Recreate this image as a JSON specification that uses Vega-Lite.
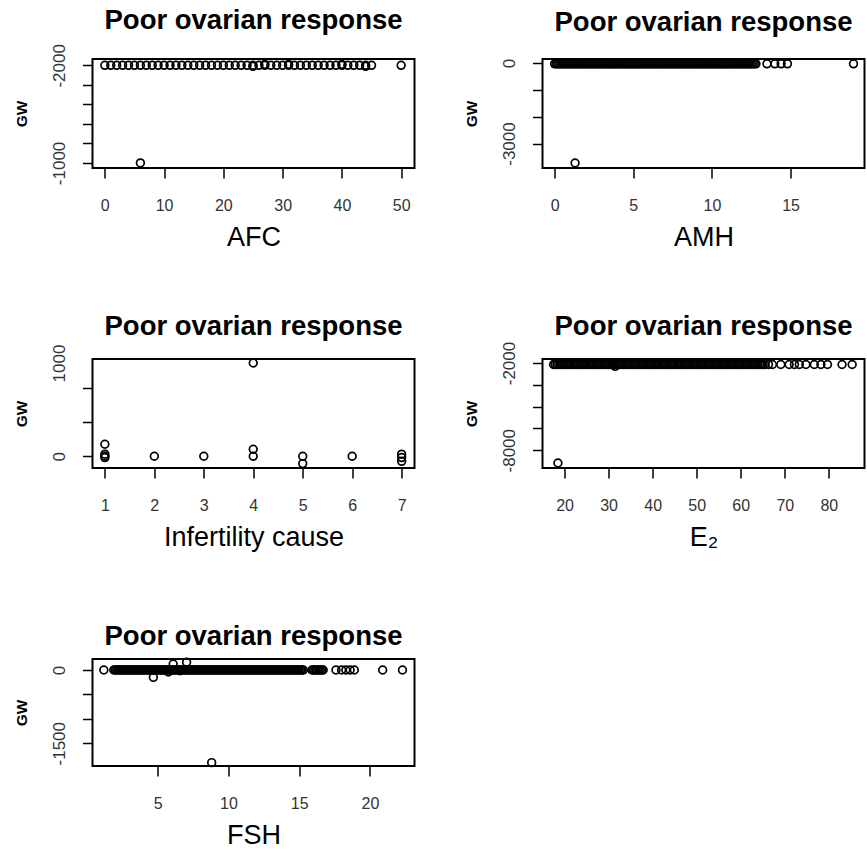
{
  "$schema": "https://vega.github.io/schema/vega-lite/v6.json",
  "background": "white",
  "padding": {"left": 12.5, "top": 6, "right": 5, "bottom": 5},
  "columns": 2,
  "spacing": {"row": 191, "column": 128},
  "bounds": "flush",
  "config": {
    "font": "Liberation Sans",
    "view": {"stroke": "black", "strokeWidth": 2},
    "axis": {"grid": false, "domain": false, "tickColor": "black", "tickWidth": 1.5, "tickSize": 10, "labelFontSize": 16, "labelColor": "#333333", "labelPadding": 19, "titleColor": "black", "labelFont": "Liberation Sans", "titleFont": "Liberation Sans"},
    "axisX": {"titleFontSize": 27, "titleFontWeight": "normal", "titlePadding": 11},
    "axisY": {"labelFontSize": 17, "titleFontSize": 15.5, "titleFontWeight": "bold", "labelAngle": 270, "labelPadding": 14.5, "titlePadding": 21},
    "title": {"fontSize": 27.5, "fontWeight": "bold", "color": "black", "font": "Liberation Sans", "frame": "group", "baseline": "alphabetic"},
    "point": {"shape": "circle", "filled": false, "stroke": "black", "strokeWidth": 1.7, "size": 60, "opacity": 1}
  },
  "datasets": {
    "afc": [
      {"AFC":0,"GW":-2000},{"AFC":1,"GW":-2000},{"AFC":2,"GW":-2000},{"AFC":3,"GW":-2000},{"AFC":4,"GW":-2000},{"AFC":5,"GW":-2000},{"AFC":6,"GW":-2000},{"AFC":7,"GW":-2000},{"AFC":8,"GW":-2000},{"AFC":9,"GW":-2000},
      {"AFC":10,"GW":-2000},{"AFC":11,"GW":-2000},{"AFC":12,"GW":-2000},{"AFC":13,"GW":-2000},{"AFC":14,"GW":-2000},{"AFC":15,"GW":-2000},{"AFC":16,"GW":-2000},{"AFC":17,"GW":-2000},{"AFC":18,"GW":-2000},{"AFC":19,"GW":-2000},
      {"AFC":20,"GW":-2000},{"AFC":21,"GW":-2000},{"AFC":22,"GW":-2000},{"AFC":23,"GW":-2000},{"AFC":24,"GW":-2000},{"AFC":25,"GW":-2000},{"AFC":25,"GW":-1990},{"AFC":26,"GW":-2000},{"AFC":27,"GW":-2000},{"AFC":27,"GW":-2010},{"AFC":28,"GW":-2000},{"AFC":29,"GW":-2000},
      {"AFC":30,"GW":-2000},{"AFC":31,"GW":-2000},{"AFC":31,"GW":-2010},{"AFC":32,"GW":-2000},{"AFC":33,"GW":-2000},{"AFC":34,"GW":-2000},{"AFC":35,"GW":-2000},{"AFC":36,"GW":-2000},{"AFC":37,"GW":-2000},{"AFC":38,"GW":-2000},{"AFC":39,"GW":-2000},
      {"AFC":40,"GW":-2000},{"AFC":40,"GW":-2010},{"AFC":41,"GW":-2000},{"AFC":42,"GW":-2000},{"AFC":43,"GW":-2000},{"AFC":44,"GW":-2000},{"AFC":44,"GW":-1990},{"AFC":45,"GW":-2000},{"AFC":50,"GW":-2000},
      {"AFC":6,"GW":-1000}
    ],
    "amh": [
      {"AMH":0,"GW":-30},{"AMH":0.1,"GW":-30},{"AMH":0.2,"GW":-30},{"AMH":0.3,"GW":-30},{"AMH":0.4,"GW":-30},{"AMH":0.5,"GW":-30},{"AMH":0.6,"GW":-30},{"AMH":0.7,"GW":-30},{"AMH":0.8,"GW":-30},{"AMH":0.9,"GW":-30},
      {"AMH":1,"GW":-30},{"AMH":1.1,"GW":-30},{"AMH":1.2,"GW":-30},{"AMH":1.3,"GW":-30},{"AMH":1.4,"GW":-30},{"AMH":1.5,"GW":-30},{"AMH":1.6,"GW":-30},{"AMH":1.7,"GW":-30},{"AMH":1.8,"GW":-30},{"AMH":1.9,"GW":-30},
      {"AMH":2,"GW":-30},{"AMH":2.1,"GW":-30},{"AMH":2.2,"GW":-30},{"AMH":2.3,"GW":-30},{"AMH":2.4,"GW":-30},{"AMH":2.5,"GW":-30},{"AMH":2.6,"GW":-30},{"AMH":2.7,"GW":-30},{"AMH":2.8,"GW":-30},{"AMH":2.9,"GW":-30},
      {"AMH":3,"GW":-30},{"AMH":3.1,"GW":-30},{"AMH":3.2,"GW":-30},{"AMH":3.3,"GW":-30},{"AMH":3.4,"GW":-30},{"AMH":3.5,"GW":-30},{"AMH":3.6,"GW":-30},{"AMH":3.7,"GW":-30},{"AMH":3.8,"GW":-30},{"AMH":3.9,"GW":-30},
      {"AMH":4,"GW":-30},{"AMH":4.1,"GW":-30},{"AMH":4.2,"GW":-30},{"AMH":4.3,"GW":-30},{"AMH":4.4,"GW":-30},{"AMH":4.5,"GW":-30},{"AMH":4.6,"GW":-30},{"AMH":4.7,"GW":-30},{"AMH":4.8,"GW":-30},{"AMH":4.9,"GW":-30},
      {"AMH":5,"GW":-30},{"AMH":5.1,"GW":-30},{"AMH":5.2,"GW":-30},{"AMH":5.3,"GW":-30},{"AMH":5.4,"GW":-30},{"AMH":5.5,"GW":-30},{"AMH":5.6,"GW":-30},{"AMH":5.7,"GW":-30},{"AMH":5.8,"GW":-30},{"AMH":5.9,"GW":-30},
      {"AMH":6,"GW":-30},{"AMH":6.1,"GW":-30},{"AMH":6.2,"GW":-30},{"AMH":6.3,"GW":-30},{"AMH":6.4,"GW":-30},{"AMH":6.5,"GW":-30},{"AMH":6.6,"GW":-30},{"AMH":6.7,"GW":-30},{"AMH":6.8,"GW":-30},{"AMH":6.9,"GW":-30},
      {"AMH":7,"GW":-30},{"AMH":7.1,"GW":-30},{"AMH":7.2,"GW":-30},{"AMH":7.3,"GW":-30},{"AMH":7.4,"GW":-30},{"AMH":7.5,"GW":-30},{"AMH":7.6,"GW":-30},{"AMH":7.7,"GW":-30},{"AMH":7.8,"GW":-30},{"AMH":7.9,"GW":-30},
      {"AMH":8,"GW":-30},{"AMH":8.1,"GW":-30},{"AMH":8.2,"GW":-30},{"AMH":8.3,"GW":-30},{"AMH":8.4,"GW":-30},{"AMH":8.5,"GW":-30},{"AMH":8.6,"GW":-30},{"AMH":8.7,"GW":-30},{"AMH":8.8,"GW":-30},{"AMH":8.9,"GW":-30},
      {"AMH":9,"GW":-30},{"AMH":9.1,"GW":-30},{"AMH":9.2,"GW":-30},{"AMH":9.3,"GW":-30},{"AMH":9.4,"GW":-30},{"AMH":9.5,"GW":-30},{"AMH":9.6,"GW":-30},{"AMH":9.7,"GW":-30},{"AMH":9.8,"GW":-30},{"AMH":9.9,"GW":-30},
      {"AMH":10,"GW":-30},{"AMH":10.1,"GW":-30},{"AMH":10.2,"GW":-30},{"AMH":10.3,"GW":-30},{"AMH":10.4,"GW":-30},{"AMH":10.5,"GW":-30},{"AMH":10.6,"GW":-30},{"AMH":10.7,"GW":-30},{"AMH":10.8,"GW":-30},{"AMH":10.9,"GW":-30},
      {"AMH":11,"GW":-30},{"AMH":11.1,"GW":-30},{"AMH":11.2,"GW":-30},{"AMH":11.3,"GW":-30},{"AMH":11.4,"GW":-30},{"AMH":11.5,"GW":-30},{"AMH":11.6,"GW":-30},{"AMH":11.7,"GW":-30},{"AMH":11.8,"GW":-30},{"AMH":11.9,"GW":-30},
      {"AMH":12,"GW":-30},{"AMH":12.1,"GW":-30},{"AMH":12.2,"GW":-30},{"AMH":12.3,"GW":-30},{"AMH":12.4,"GW":-30},{"AMH":12.5,"GW":-30},{"AMH":12.6,"GW":-30},{"AMH":12.7,"GW":-30},{"AMH":12.8,"GW":-30},
      {"AMH":13.5,"GW":-30},{"AMH":14.0,"GW":-30},{"AMH":14.4,"GW":-30},{"AMH":14.8,"GW":-30},{"AMH":19.0,"GW":-30},
      {"AMH":1.3,"GW":-3725}
    ],
    "inf": [
      {"Cause":1,"GW":129},{"Cause":1,"GW":22},{"Cause":1,"GW":0},{"Cause":1,"GW":-14},
      {"Cause":2,"GW":0},{"Cause":3,"GW":0},
      {"Cause":4,"GW":1000},{"Cause":4,"GW":75},{"Cause":4,"GW":0},
      {"Cause":5,"GW":0},{"Cause":5,"GW":-79},
      {"Cause":6,"GW":0},
      {"Cause":7,"GW":22},{"Cause":7,"GW":-14},{"Cause":7,"GW":-54}
    ],
    "e2": [
      {"E2":17.5,"GW":-2100},{"E2":17.9,"GW":-2100},{"E2":18.3,"GW":-2100},{"E2":18.7,"GW":-2100},{"E2":19.1,"GW":-2100},{"E2":19.5,"GW":-2100},{"E2":19.9,"GW":-2100},{"E2":20.3,"GW":-2100},{"E2":20.7,"GW":-2100},{"E2":21.1,"GW":-2100},
      {"E2":21.5,"GW":-2100},{"E2":21.9,"GW":-2100},{"E2":22.3,"GW":-2100},{"E2":22.7,"GW":-2100},{"E2":23.1,"GW":-2100},{"E2":23.5,"GW":-2100},{"E2":23.9,"GW":-2100},{"E2":24.3,"GW":-2100},{"E2":24.7,"GW":-2100},{"E2":25.1,"GW":-2100},
      {"E2":25.5,"GW":-2100},{"E2":25.9,"GW":-2100},{"E2":26.3,"GW":-2100},{"E2":26.7,"GW":-2100},{"E2":27.1,"GW":-2100},{"E2":27.5,"GW":-2100},{"E2":27.9,"GW":-2100},{"E2":28.3,"GW":-2100},{"E2":28.7,"GW":-2100},{"E2":29.1,"GW":-2100},
      {"E2":29.5,"GW":-2100},{"E2":29.9,"GW":-2100},{"E2":30.3,"GW":-2100},{"E2":30.7,"GW":-2100},{"E2":31.1,"GW":-2100},{"E2":31.5,"GW":-2100},{"E2":31.9,"GW":-2100},{"E2":32.3,"GW":-2100},{"E2":32.7,"GW":-2100},{"E2":33.1,"GW":-2100},
      {"E2":33.5,"GW":-2100},{"E2":33.9,"GW":-2100},{"E2":34.3,"GW":-2100},{"E2":34.7,"GW":-2100},{"E2":35.1,"GW":-2100},{"E2":35.5,"GW":-2100},{"E2":35.9,"GW":-2100},{"E2":36.3,"GW":-2100},{"E2":36.7,"GW":-2100},{"E2":37.1,"GW":-2100},
      {"E2":37.5,"GW":-2100},{"E2":37.9,"GW":-2100},{"E2":38.3,"GW":-2100},{"E2":38.7,"GW":-2100},{"E2":39.1,"GW":-2100},{"E2":39.5,"GW":-2100},{"E2":39.9,"GW":-2100},{"E2":40.3,"GW":-2100},{"E2":40.7,"GW":-2100},{"E2":41.1,"GW":-2100},
      {"E2":41.5,"GW":-2100},{"E2":41.9,"GW":-2100},{"E2":42.3,"GW":-2100},{"E2":42.7,"GW":-2100},{"E2":43.1,"GW":-2100},{"E2":43.5,"GW":-2100},{"E2":43.9,"GW":-2100},{"E2":44.3,"GW":-2100},{"E2":44.7,"GW":-2100},{"E2":45.1,"GW":-2100},
      {"E2":45.5,"GW":-2100},{"E2":45.9,"GW":-2100},{"E2":46.3,"GW":-2100},{"E2":46.7,"GW":-2100},{"E2":47.1,"GW":-2100},{"E2":47.5,"GW":-2100},{"E2":47.9,"GW":-2100},{"E2":48.3,"GW":-2100},{"E2":48.7,"GW":-2100},{"E2":49.1,"GW":-2100},
      {"E2":49.5,"GW":-2100},{"E2":49.9,"GW":-2100},{"E2":50.3,"GW":-2100},{"E2":50.7,"GW":-2100},{"E2":51.1,"GW":-2100},{"E2":51.5,"GW":-2100},{"E2":51.9,"GW":-2100},{"E2":52.3,"GW":-2100},{"E2":52.7,"GW":-2100},{"E2":53.1,"GW":-2100},
      {"E2":53.5,"GW":-2100},{"E2":53.9,"GW":-2100},{"E2":54.3,"GW":-2100},{"E2":54.7,"GW":-2100},{"E2":55.1,"GW":-2100},{"E2":55.5,"GW":-2100},{"E2":55.9,"GW":-2100},{"E2":56.3,"GW":-2100},{"E2":56.7,"GW":-2100},{"E2":57.1,"GW":-2100},
      {"E2":57.5,"GW":-2100},{"E2":57.9,"GW":-2100},{"E2":58.3,"GW":-2100},{"E2":58.7,"GW":-2100},{"E2":59.1,"GW":-2100},{"E2":59.5,"GW":-2100},{"E2":59.9,"GW":-2100},{"E2":60.3,"GW":-2100},{"E2":60.7,"GW":-2100},{"E2":61.1,"GW":-2100},
      {"E2":61.5,"GW":-2100},{"E2":61.9,"GW":-2100},{"E2":62.3,"GW":-2100},{"E2":62.7,"GW":-2100},{"E2":63.1,"GW":-2100},{"E2":63.5,"GW":-2100},{"E2":63.9,"GW":-2100},{"E2":64.3,"GW":-2100},{"E2":64.7,"GW":-2100},{"E2":65.1,"GW":-2100},
      {"E2":65.5,"GW":-2100},{"E2":66.3,"GW":-2100},{"E2":67.2,"GW":-2100},{"E2":69.1,"GW":-2100},{"E2":71.0,"GW":-2100},{"E2":72.2,"GW":-2100},{"E2":73.3,"GW":-2100},{"E2":74.8,"GW":-2100},{"E2":76.7,"GW":-2100},{"E2":78.2,"GW":-2100},{"E2":79.7,"GW":-2100},{"E2":83.0,"GW":-2100},{"E2":85.3,"GW":-2100},
      {"E2":31.5,"GW":-2230},
      {"E2":18.5,"GW":-8877}
    ],
    "fsh": [
      {"FSH":1.2,"GW":0},
      {"FSH":1.9,"GW":0},{"FSH":2,"GW":0},{"FSH":2.1,"GW":0},{"FSH":2.2,"GW":0},{"FSH":2.3,"GW":0},{"FSH":2.4,"GW":0},{"FSH":2.5,"GW":0},{"FSH":2.6,"GW":0},{"FSH":2.7,"GW":0},{"FSH":2.8,"GW":0},{"FSH":2.9,"GW":0},
      {"FSH":3,"GW":0},{"FSH":3.1,"GW":0},{"FSH":3.2,"GW":0},{"FSH":3.3,"GW":0},{"FSH":3.4,"GW":0},{"FSH":3.5,"GW":0},{"FSH":3.6,"GW":0},{"FSH":3.7,"GW":0},{"FSH":3.8,"GW":0},{"FSH":3.9,"GW":0},
      {"FSH":4,"GW":0},{"FSH":4.1,"GW":0},{"FSH":4.2,"GW":0},{"FSH":4.3,"GW":0},{"FSH":4.4,"GW":0},{"FSH":4.5,"GW":0},{"FSH":4.6,"GW":0},{"FSH":4.7,"GW":0},{"FSH":4.8,"GW":0},{"FSH":4.9,"GW":0},
      {"FSH":5,"GW":0},{"FSH":5.1,"GW":0},{"FSH":5.2,"GW":0},{"FSH":5.3,"GW":0},{"FSH":5.4,"GW":0},{"FSH":5.5,"GW":0},{"FSH":5.6,"GW":0},{"FSH":5.7,"GW":0},{"FSH":5.8,"GW":0},{"FSH":5.9,"GW":0},
      {"FSH":6,"GW":0},{"FSH":6.1,"GW":0},{"FSH":6.2,"GW":0},{"FSH":6.3,"GW":0},{"FSH":6.4,"GW":0},{"FSH":6.5,"GW":0},{"FSH":6.6,"GW":0},{"FSH":6.7,"GW":0},{"FSH":6.8,"GW":0},{"FSH":6.9,"GW":0},
      {"FSH":7,"GW":0},{"FSH":7.1,"GW":0},{"FSH":7.2,"GW":0},{"FSH":7.3,"GW":0},{"FSH":7.4,"GW":0},{"FSH":7.5,"GW":0},{"FSH":7.6,"GW":0},{"FSH":7.7,"GW":0},{"FSH":7.8,"GW":0},{"FSH":7.9,"GW":0},
      {"FSH":8,"GW":0},{"FSH":8.1,"GW":0},{"FSH":8.2,"GW":0},{"FSH":8.3,"GW":0},{"FSH":8.4,"GW":0},{"FSH":8.5,"GW":0},{"FSH":8.6,"GW":0},{"FSH":8.7,"GW":0},{"FSH":8.8,"GW":0},{"FSH":8.9,"GW":0},
      {"FSH":9,"GW":0},{"FSH":9.1,"GW":0},{"FSH":9.2,"GW":0},{"FSH":9.3,"GW":0},{"FSH":9.4,"GW":0},{"FSH":9.5,"GW":0},{"FSH":9.6,"GW":0},{"FSH":9.7,"GW":0},{"FSH":9.8,"GW":0},{"FSH":9.9,"GW":0},
      {"FSH":10,"GW":0},{"FSH":10.1,"GW":0},{"FSH":10.2,"GW":0},{"FSH":10.3,"GW":0},{"FSH":10.4,"GW":0},{"FSH":10.5,"GW":0},{"FSH":10.6,"GW":0},{"FSH":10.7,"GW":0},{"FSH":10.8,"GW":0},{"FSH":10.9,"GW":0},
      {"FSH":11,"GW":0},{"FSH":11.1,"GW":0},{"FSH":11.2,"GW":0},{"FSH":11.3,"GW":0},{"FSH":11.4,"GW":0},{"FSH":11.5,"GW":0},{"FSH":11.6,"GW":0},{"FSH":11.7,"GW":0},{"FSH":11.8,"GW":0},{"FSH":11.9,"GW":0},
      {"FSH":12,"GW":0},{"FSH":12.1,"GW":0},{"FSH":12.2,"GW":0},{"FSH":12.3,"GW":0},{"FSH":12.4,"GW":0},{"FSH":12.5,"GW":0},{"FSH":12.6,"GW":0},{"FSH":12.7,"GW":0},{"FSH":12.8,"GW":0},{"FSH":12.9,"GW":0},
      {"FSH":13,"GW":0},{"FSH":13.1,"GW":0},{"FSH":13.2,"GW":0},{"FSH":13.3,"GW":0},{"FSH":13.4,"GW":0},{"FSH":13.5,"GW":0},{"FSH":13.6,"GW":0},{"FSH":13.7,"GW":0},{"FSH":13.8,"GW":0},{"FSH":13.9,"GW":0},
      {"FSH":14,"GW":0},{"FSH":14.1,"GW":0},{"FSH":14.2,"GW":0},{"FSH":14.3,"GW":0},{"FSH":14.4,"GW":0},{"FSH":14.5,"GW":0},{"FSH":14.6,"GW":0},{"FSH":14.7,"GW":0},{"FSH":14.8,"GW":0},{"FSH":14.9,"GW":0},
      {"FSH":15,"GW":0},{"FSH":15.1,"GW":0},{"FSH":15.2,"GW":0},{"FSH":15.3,"GW":0},
      {"FSH":15.9,"GW":0},{"FSH":16,"GW":0},{"FSH":16.1,"GW":0},{"FSH":16.2,"GW":0},{"FSH":16.3,"GW":0},{"FSH":16.4,"GW":0},{"FSH":16.5,"GW":0},{"FSH":16.6,"GW":0},{"FSH":16.7,"GW":0},
      {"FSH":17.6,"GW":0},{"FSH":18.0,"GW":0},{"FSH":18.3,"GW":0},{"FSH":18.6,"GW":0},{"FSH":18.9,"GW":0},
      {"FSH":20.9,"GW":0},{"FSH":22.3,"GW":0},
      {"FSH":4.7,"GW":-150},{"FSH":6.1,"GW":123},{"FSH":7.05,"GW":158},{"FSH":5.76,"GW":-41},{"FSH":6.6,"GW":-14},
      {"FSH":8.82,"GW":-1897}
    ]
  },
  "concat": [
    {
      "title": {"text": "Poor ovarian response", "offset": 9},
      "width": 322, "height": 109,
      "data": {"name": "afc"},
      "mark": {"type": "point"},
      "encoding": {
        "x": {"field": "AFC", "type": "quantitative", "scale": {"domain": [-2.08, 52.25], "nice": false, "zero": false}, "axis": {"values": [0,10,20,30,40,50], "title": "AFC", "labelExpr": "'' + datum.value"}},
        "y": {"field": "GW", "type": "quantitative", "scale": {"domain": [-2065, -948], "reverse": true, "nice": false, "zero": false}, "axis": {"values": [-2000,-1800,-1600,-1400,-1200,-1000], "title": "GW", "labelExpr": "datum.value == -2000 || datum.value == -1000 ? '' + datum.value : ''"}}
      }
    },
    {
      "title": {"text": "Poor ovarian response", "offset": 20},
      "width": 322, "height": 109,
      "data": {"name": "amh"},
      "mark": {"type": "point"},
      "encoding": {
        "x": {"field": "AMH", "type": "quantitative", "scale": {"domain": [-0.77, 19.7], "nice": false, "zero": false}, "axis": {"values": [0,5,10,15], "title": "AMH", "labelExpr": "'' + datum.value"}},
        "y": {"field": "GW", "type": "quantitative", "scale": {"domain": [-3912, 150], "nice": false, "zero": false}, "axis": {"values": [0,-1000,-2000,-3000], "title": "GW", "labelExpr": "datum.value == 0 || datum.value == -3000 ? '' + datum.value : ''"}}
      }
    },
    {
      "title": {"text": "Poor ovarian response", "offset": 3.5},
      "width": 322, "height": 109,
      "data": {"name": "inf"},
      "mark": {"type": "point"},
      "encoding": {
        "x": {"field": "Cause", "type": "quantitative", "scale": {"domain": [0.75, 7.26], "nice": false, "zero": false}, "axis": {"values": [1,2,3,4,5,6,7], "title": "Infertility cause", "labelExpr": "'' + datum.value"}},
        "y": {"field": "GW", "type": "quantitative", "scale": {"domain": [-126, 1043], "nice": false, "zero": false}, "axis": {"values": [0,363,737,1000], "title": "GW", "labelExpr": "datum.value == 0 || datum.value == 1000 ? '' + datum.value : ''", "tickOpacity": {"condition": {"test": "datum.value == 1000", "value": 0}, "value": 1}}}
      }
    },
    {
      "title": {"text": "Poor ovarian response", "offset": 0.5},
      "width": 322, "height": 109,
      "data": {"name": "e2"},
      "mark": {"type": "point"},
      "encoding": {
        "x": {"field": "E2", "type": "quantitative", "scale": {"domain": [15.0, 88.1], "nice": false, "zero": false}, "axis": {"values": [20,30,40,50,60,70,80], "title": "E₂", "labelExpr": "'' + datum.value"}},
        "y": {"field": "GW", "type": "quantitative", "scale": {"domain": [-9223, -1723], "nice": false, "zero": false}, "axis": {"values": [-2000,-3500,-5000,-6500,-8000], "title": "GW", "labelExpr": "datum.value == -2000 || datum.value == -8000 ? '' + datum.value : ''"}}
      }
    },
    {
      "title": {"text": "Poor ovarian response", "offset": 4.5},
      "width": 322, "height": 107,
      "data": {"name": "fsh"},
      "mark": {"type": "point"},
      "encoding": {
        "x": {"field": "FSH", "type": "quantitative", "scale": {"domain": [0.4, 23.15], "nice": false, "zero": false}, "axis": {"values": [5,10,15,20], "title": "FSH", "labelExpr": "'' + datum.value"}},
        "y": {"field": "GW", "type": "quantitative", "scale": {"domain": [-1966, 226], "nice": false, "zero": false}, "axis": {"values": [0,-500,-1000,-1500], "title": "GW", "labelExpr": "datum.value == 0 || datum.value == -1500 ? '' + datum.value : ''"}}
      }
    }
  ]
}
